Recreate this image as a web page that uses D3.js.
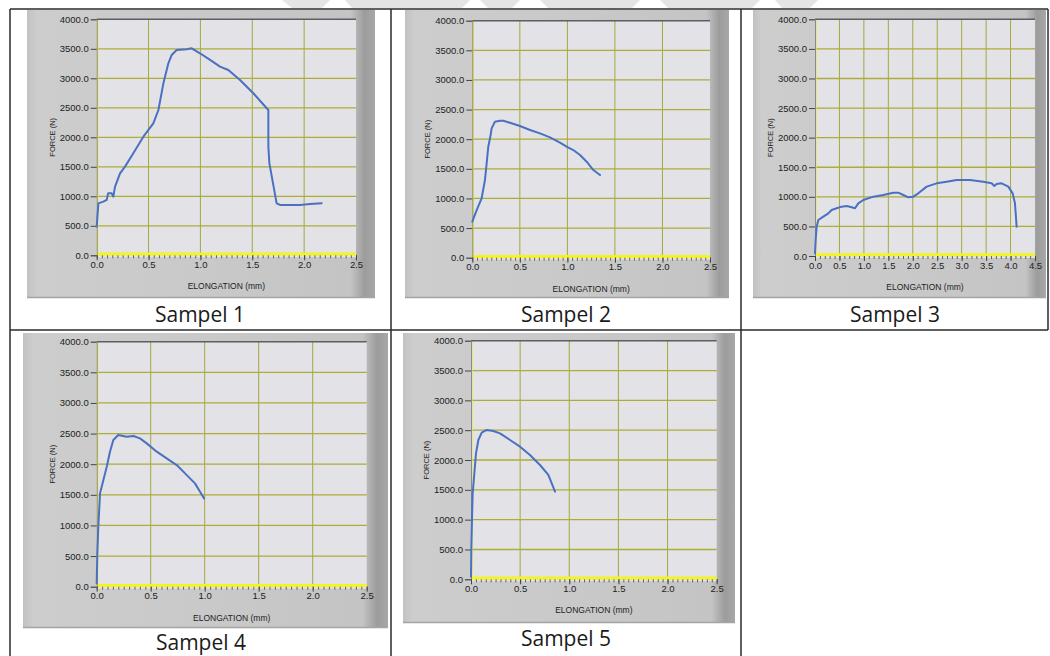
<!DOCTYPE html>
<html><head><meta charset="utf-8">
<script src="https://cdn.jsdelivr.net/npm/d3@7"></script>
<style>body{margin:0;background:#fff;} svg{display:block}</style>
</head><body><svg id="c" width="1050" height="656"></svg>
<script>
// ---------------- DATA ----------------
const captions = ["Sampel 1", "Sampel 2", "Sampel 3", "Sampel 4", "Sampel 5"];
const yTicks = [0, 500, 1000, 1500, 2000, 2500, 3000, 3500, 4000];
const xTicksShort = [0, 0.5, 1.0, 1.5, 2.0, 2.5];
const xTicksLong = [0, 0.5, 1.0, 1.5, 2.0, 2.5, 3.0, 3.5, 4.0, 4.5];
const xAxisTitle = "ELONGATION (mm)";
const yAxisTitle = "FORCE (N)";

// [elongation mm, force N]
const sample1 = [[0,486],[0.016,881],[0.064,910],[0.096,938],[0.11,1050],[0.145,1050],[0.16,995],[0.177,1164],[0.225,1390],[0.273,1503],[0.353,1729],[0.45,2011],[0.546,2237],[0.595,2463],[0.643,2915],[0.691,3254],[0.723,3395],[0.771,3480],[0.868,3492],[0.916,3508],[0.996,3424],[1.093,3311],[1.189,3198],[1.269,3141],[1.382,2972],[1.51,2746],[1.639,2492],[1.655,2463],[1.655,1842],[1.665,1559],[1.735,881],[1.767,853],[1.96,853],[2.057,870],[2.169,881]];
const sample2 = [[0,608],[0.046,804],[0.098,1001],[0.133,1311],[0.151,1592],[0.168,1873],[0.193,2070],[0.203,2183],[0.238,2295],[0.291,2312],[0.326,2312],[0.396,2278],[0.501,2222],[0.607,2155],[0.712,2098],[0.817,2031],[0.922,1941],[0.992,1873],[1.062,1817],[1.133,1733],[1.203,1620],[1.273,1480],[1.343,1395]];
const sample3 = [[0,45],[0.014,270],[0.034,496],[0.068,608],[0.17,665],[0.273,721],[0.34,777],[0.443,806],[0.545,834],[0.648,845],[0.75,823],[0.818,806],[0.886,890],[0.988,946],[1.193,1003],[1.397,1031],[1.602,1070],[1.704,1070],[1.806,1031],[1.909,992],[2.011,1003],[2.113,1059],[2.284,1172],[2.488,1228],[2.693,1256],[2.897,1285],[3.17,1285],[3.442,1256],[3.613,1228],[3.668,1183],[3.715,1217],[3.817,1228],[3.954,1172],[4.043,1059],[4.09,890],[4.11,665],[4.124,496]];
const sample4 = [[0,54],[0.006,544],[0.015,980],[0.031,1524],[0.062,1741],[0.093,1959],[0.123,2204],[0.154,2395],[0.2,2476],[0.278,2449],[0.34,2460],[0.401,2422],[0.463,2340],[0.556,2204],[0.648,2095],[0.741,1986],[0.818,1850],[0.91,1687],[0.957,1551],[0.994,1442]];
const sample5 = [[0,45],[0.003,492],[0.01,994],[0.017,1441],[0.034,1777],[0.051,2112],[0.075,2335],[0.109,2458],[0.159,2503],[0.227,2486],[0.295,2447],[0.397,2335],[0.499,2223],[0.6,2084],[0.702,1916],[0.787,1749],[0.855,1469]];

const samples = [sample1, sample2, sample3, sample4, sample5];
const xTickSets = [xTicksShort, xTicksShort, xTicksLong, xTicksShort, xTicksShort];
const xMax = xTickSets.map(t => t[t.length - 1]);
const minorSteps = [0.05, 0.05, 0.1, 0.05, 0.05];

// ---------------- LAYOUT ----------------
const layout = [
  {frame:[27,10,375,298],  plot:[96.7,19.3,356,255.3],   cap:[200,322]},
  {frame:[405,10,729,298], plot:[472.3,20.7,710,257.7],  cap:[566,322]},
  {frame:[753,10,1046,298],plot:[815,19.3,1035,256],     cap:[895,322]},
  {frame:[23,333,388,628], plot:[96.7,341.7,366.7,586.7],cap:[201,650]},
  {frame:[403,333,735,623],plot:[471,340.7,716.7,579.3], cap:[566,646]}
];

const svg = d3.select("#c");
const defs = svg.append("defs");
const g1 = defs.append("linearGradient").attr("id","frameGrad").attr("x1","0").attr("x2","1").attr("y1","0").attr("y2","0");
[[0,"#c2c2c2"],[0.03,"#cdcdcd"],[0.5,"#c9c9c9"],[0.93,"#c4c4c4"],[0.97,"#9c9c9c"],[1,"#a8a8a8"]]
  .forEach(s => g1.append("stop").attr("offset", s[0]).attr("stop-color", s[1]));

// watermark fragments at the top
const wm = [[282,0,330,0,322,8,292,8],[345,0,470,0,462,8,352,8],[480,0,520,0,512,8,488,8],[540,0,640,0,632,8,548,8],[660,0,760,0,752,8,668,8],[775,0,818,0,810,8,782,8]];
svg.append("g").selectAll("polygon").data(wm).join("polygon")
  .attr("points", d => `${d[0]},${d[1]} ${d[2]},${d[3]} ${d[4]},${d[5]} ${d[6]},${d[7]}`)
  .attr("fill", "#e4e4e4");

const fmtY = d3.format(".1f"), fmtX = d3.format(".1f");
const tickFont = "'Liberation Sans', Arial, sans-serif";

samples.forEach((data, i) => {
  const L = layout[i];
  const [fx0, fy0, fx1, fy1] = L.frame;
  const [px0, py1, px1, py0] = L.plot;
  const g = svg.append("g");
  g.append("rect").attr("x", fx0).attr("y", fy0).attr("width", fx1 - fx0).attr("height", fy1 - fy0)
    .attr("fill", "url(#frameGrad)");
  g.append("line").attr("x1", fx0).attr("x2", fx1).attr("y1", fy1 - 0.5).attr("y2", fy1 - 0.5)
    .attr("stroke", "#a4a4a4").attr("stroke-width", 1.5);

  const x = d3.scaleLinear().domain([0, xMax[i]]).range([px0, px1]);
  const y = d3.scaleLinear().domain([0, 4000]).range([py0, py1]);

  g.append("rect").attr("x", px0).attr("y", py1).attr("width", px1 - px0).attr("height", py0 - py1 + 2)
    .attr("fill", "#e3e3e7");

  const xt = xTickSets[i];
  // grid
  g.append("g").selectAll("line").data(xt.filter(d => d > 0 && d < xMax[i])).join("line")
    .attr("x1", d => x(d)).attr("x2", d => x(d)).attr("y1", py1).attr("y2", py0)
    .attr("stroke", "#a6a640").attr("stroke-width", 1);
  g.append("g").selectAll("line").data(yTicks.filter(d => d > 0 && d < 4000)).join("line")
    .attr("x1", px0).attr("x2", px1).attr("y1", d => y(d)).attr("y2", d => y(d))
    .attr("stroke", "#acac38").attr("stroke-width", 1.3);
  // zero lines (yellow)
  g.append("line").attr("x1", x(0) + 0.8).attr("x2", x(0) + 0.8).attr("y1", py1).attr("y2", py0)
    .attr("stroke", "#e9e94a").attr("stroke-width", 1.6);
  g.append("line").attr("x1", px0).attr("x2", px1).attr("y1", y(0) - 1.2).attr("y2", y(0) - 1.2)
    .attr("stroke", "#f4f420").attr("stroke-width", 3);
  // top border
  g.append("line").attr("x1", px0).attr("x2", px1).attr("y1", py1).attr("y2", py1)
    .attr("stroke", "#5e5e62").attr("stroke-width", 1.5);

  // y axis
  const ya = g.append("g").attr("transform", `translate(${px0},0)`)
    .call(d3.axisLeft(y).tickValues(yTicks).tickFormat(fmtY).tickSize(6).tickPadding(2));
  ya.select(".domain").attr("stroke", "#8a8a8a").attr("stroke-width", 1);
  ya.selectAll(".tick line").attr("stroke", "#444").attr("stroke-width", 1);
  ya.selectAll("text").attr("font-family", tickFont).attr("font-size", 9.5).attr("fill", "#222");

  // x axis minor ticks
  const nMinor = Math.round(xMax[i] / minorSteps[i]);
  const minor = d3.range(0, nMinor + 1).map(k => k * minorSteps[i]);
  const xm = g.append("g").attr("transform", `translate(0,${py0})`)
    .call(d3.axisBottom(x).tickValues(minor).tickFormat("").tickSize(3));
  xm.select(".domain").remove();
  xm.selectAll(".tick line").attr("stroke", "#555").attr("stroke-width", 0.9);
  // x axis major
  const xa = g.append("g").attr("transform", `translate(0,${py0})`)
    .call(d3.axisBottom(x).tickValues(xt).tickFormat(fmtX).tickSize(5).tickPadding(1));
  xa.select(".domain").remove();
  xa.selectAll(".tick line").attr("stroke", "#444").attr("stroke-width", 1);
  xa.selectAll("text").attr("font-family", tickFont).attr("font-size", 9.5).attr("fill", "#222");

  // titles
  g.append("text").attr("x", (px0 + px1) / 2).attr("y", py0 + 34)
    .attr("text-anchor", "middle").attr("font-family", tickFont).attr("font-size", 8.5).attr("fill", "#222")
    .text(xAxisTitle);
  g.append("text").attr("transform", `translate(${px0 - 42},${(py0 + py1) / 2}) rotate(-90)`)
    .attr("text-anchor", "middle").attr("font-family", tickFont).attr("font-size", 7.5).attr("fill", "#222")
    .text(yAxisTitle);

  // curve
  g.append("path").datum(data)
    .attr("d", d3.line().x(d => x(d[0])).y(d => y(d[1])))
    .attr("fill", "none").attr("stroke", "#4a70c2").attr("stroke-width", 2)
    .attr("stroke-linejoin", "round").attr("stroke-linecap", "round");

  // caption
  svg.append("text").attr("x", L.cap[0]).attr("y", L.cap[1]).attr("text-anchor", "middle")
    .attr("font-family", "'Open Sans', sans-serif").attr("font-size", 21).attr("fill", "#1a1a1a")
    .text(captions[i]);
});

// table borders
const tl = [[10,9,1048,9],[10,9,10,656],[391,9,391,656],[741,9,741,656],[1048,9,1048,330],[10,330,1048,330]];
svg.append("g").selectAll("line").data(tl).join("line")
  .attr("x1", d => d[0]).attr("y1", d => d[1]).attr("x2", d => d[2]).attr("y2", d => d[3])
  .attr("stroke", "#2a2a2a").attr("stroke-width", 1.5);
</script>
</body></html>
